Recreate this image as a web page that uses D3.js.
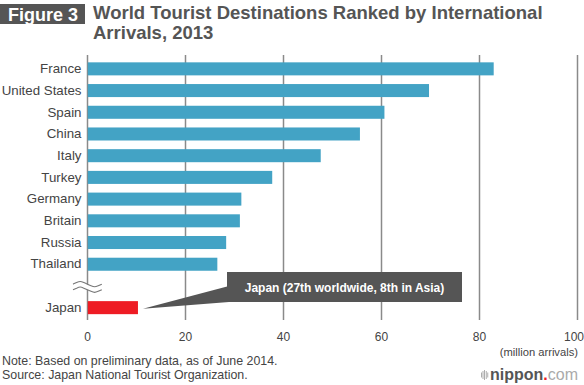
<!DOCTYPE html>
<html>
<head>
<meta charset="utf-8">
<script src="https://cdn.jsdelivr.net/npm/d3@7"></script>
<style>
  body { margin: 0; background: #fff; }
  svg { display: block; font-family: "Helvetica Neue", Helvetica, Arial, "Liberation Sans", sans-serif; }
</style>
</head>
<body>
<svg id="chart" width="584" height="385"></svg>
<script>
// values (million arrivals, 2013)
const countries = ["France", "United States", "Spain", "China", "Italy", "Turkey", "Germany", "Britain", "Russia", "Thailand", "Japan"];
const arrivals = [83.0, 69.8, 60.7, 55.7, 47.7, 37.8, 31.5, 31.2, 28.4, 26.6, 10.4];
const xTicks = [0, 20, 40, 60, 80, 100];
const highlight = "Japan";

const svg = d3.select("#chart");
const BLUE = "#43a3c5", RED = "#ee1c24", GRAY = "#555555";

// slot list with a gap for the axis break before Japan
const slots = countries.slice(0, 10).concat(["__break"], countries.slice(10));
const data = countries.map((c, i) => ({ country: c, value: arrivals[i] }));

const x = d3.scaleLinear().domain([0, 100]).range([87, 577]);
const y = d3.scaleBand().domain(slots).range([58, 318.5]).paddingInner(0.4).paddingOuter(0.2);

// title
svg.append("rect").attr("x", 0).attr("y", 4).attr("width", 85).attr("height", 20).attr("fill", GRAY);
svg.append("text").attr("x", 43).attr("y", 20.5).attr("text-anchor", "middle")
    .attr("fill", "#fff").attr("font-weight", "bold").attr("font-size", 18).text("Figure 3");
svg.append("text").attr("x", 93).attr("y", 18.5).attr("fill", GRAY).attr("font-weight", "bold")
    .attr("font-size", 18.5).text("World Tourist Destinations Ranked by International");
svg.append("text").attr("x", 93).attr("y", 38.5).attr("fill", GRAY).attr("font-weight", "bold")
    .attr("font-size", 18.5).text("Arrivals, 2013");

// gridlines + tick labels
const gridTop = 55, gridBottom = 320;
const xAxis = svg.append("g").attr("transform", `translate(0,${gridBottom})`)
    .call(d3.axisBottom(x).tickValues(xTicks).tickSize(-(gridBottom - gridTop)).tickPadding(12));
xAxis.select(".domain").remove();
xAxis.selectAll(".tick line").attr("stroke", "#8a8a8a").attr("stroke-width", 1.5);
xAxis.selectAll(".tick text").attr("fill", "#444").attr("font-size", 12).attr("font-family", null)
    .attr("dx", d => d === 100 ? -3.5 : 0);

svg.append("text").attr("x", 578).attr("y", 356).attr("text-anchor", "end")
    .attr("fill", "#444").attr("font-size", 11.2).text("(million arrivals)");

// bars
svg.append("g").selectAll("rect").data(data).join("rect")
    .attr("x", x(0) + 0.8)
    .attr("y", d => y(d.country))
    .attr("width", d => x(d.value) - x(0) - 0.8)
    .attr("height", y.bandwidth())
    .attr("fill", d => d.country === highlight ? RED : BLUE);

// country labels
const yAxis = svg.append("g").attr("transform", `translate(${x(0)},0)`)
    .call(d3.axisLeft(y).tickSize(0).tickPadding(5.5).tickFormat(d => d === "__break" ? "" : d));
yAxis.select(".domain").remove();
yAxis.selectAll(".tick text").attr("fill", "#444").attr("font-size", 13.3).attr("font-family", null);

// axis break mark (white gap over the zero line, then two waves)
const by = y("__break") + y.bandwidth() / 2 + 1;
const wave = d3.line().curve(d3.curveBasis);
const wavePts = off => d3.range(0, 9).map(i => [73 + i * 3.6, by + off + [0, -2, -4, -2, 0, 2, 4, 2, 0][i] * 0.8]);
svg.append("path")
    .attr("d", wave(wavePts(-2.8)) + "L" + wavePts(2.8).reverse().map(p => p.join(",")).join("L") + "Z")
    .attr("fill", "#fff");
[-2.8, 2.8].forEach(off => {
    svg.append("path").attr("d", wave(wavePts(off))).attr("fill", "none")
        .attr("stroke", "#777").attr("stroke-width", 1.1);
});

// callout for Japan
const jp = data.find(d => d.country === highlight);
const jy = y(highlight) + y.bandwidth() / 2;
const box = { x: 227, y: 272, w: 235, h: 30 };
svg.append("path")
    .attr("d", `M${x(jp.value) + 5},${jy + 1}L${box.x + 2},${box.y + 14}L${box.x + 2},${box.y + box.h}Z`)
    .attr("fill", GRAY);
svg.append("rect").attr("x", box.x).attr("y", box.y).attr("width", box.w).attr("height", box.h).attr("fill", GRAY);
svg.append("text").attr("x", box.x + box.w / 2).attr("y", box.y + 19.5).attr("text-anchor", "middle")
    .attr("fill", "#fff").attr("font-weight", "bold").attr("font-size", 12)
    .text("Japan (27th worldwide, 8th in Asia)");

// notes
svg.append("text").attr("x", 2).attr("y", 365).attr("fill", "#444").attr("font-size", 12.4)
    .text("Note: Based on preliminary data, as of June 2014.");
svg.append("text").attr("x", 2).attr("y", 379).attr("fill", "#444").attr("font-size", 12.4)
    .text("Source: Japan National Tourist Organization.");

// nippon.com logo
const logo = svg.append("g");
[0, 1, 2, 3, 4].forEach((i) => {
    const h = [5, 8, 10, 8, 5][i];
    logo.append("rect").attr("x", 481 + i * 1.6).attr("y", 375 - h / 2).attr("width", 0.8)
        .attr("height", h).attr("fill", "#999");
});
const lt = logo.append("text").attr("x", 490).attr("y", 380).attr("font-size", 16);
lt.append("tspan").attr("fill", "#555").attr("font-weight", "bold").text("nippon");
lt.append("tspan").attr("fill", RED).attr("font-weight", "bold").text(".");
lt.append("tspan").attr("fill", "#aaa").text("com");
</script>
</body>
</html>
